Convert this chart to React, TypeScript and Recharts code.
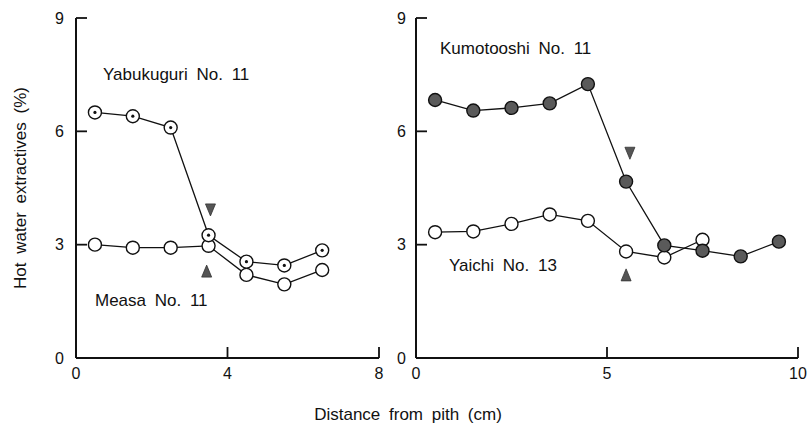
import React from "react"
import { ComposedChart, Line, Scatter, XAxis, YAxis } from "recharts"

// distance from pith (cm) for each ring position
const leftX = [0.5, 1.5, 2.5, 3.5, 4.5, 5.5, 6.5]
const rightX = [0.5, 1.5, 2.5, 3.5, 4.5, 5.5, 6.5, 7.5, 8.5, 9.5]

// hot water extractives (%)
const yabukuguri = [6.5, 6.4, 6.1, 3.25, 2.55, 2.45, 2.85]
const measa = [3.0, 2.92, 2.92, 2.97, 2.2, 1.95, 2.33]
const kumotooshi = [6.83, 6.55, 6.62, 6.74, 7.25, 4.67, 2.98, 2.84, 2.69, 3.08]
const yaichi = [3.33, 3.35, 3.55, 3.8, 3.63, 2.82, 2.66, 3.13]

// arrow markers (x, y)
const leftDownArrow = [{ x: 3.55, y: 3.92 }]
const leftUpArrow = [{ x: 3.45, y: 2.3 }]
const rightDownArrow = [{ x: 5.6, y: 5.42 }]
const rightUpArrow = [{ x: 5.5, y: 2.2 }]

const yTicks = [0, 3, 6, 9]
const leftXTicks = [0, 4, 8]
const rightXTicks = [0, 5, 10]

const toPoints = (xs: number[], ys: number[]) => ys.map((y, i) => ({ x: xs[i], y }))

const font = "'Liberation Sans', Arial, sans-serif"
const ink = "#111"
const TICK_LEN = 11

const OpenDot = (props: any) => {
  const { cx, cy, index } = props
  return <circle key={`o-${index}`} cx={cx} cy={cy} r={6.5} fill="#fff" stroke={ink} strokeWidth={1.4} />
}

const DottedDot = (props: any) => {
  const { cx, cy, index } = props
  return (
    <g key={`d-${index}`}>
      <circle cx={cx} cy={cy} r={6.5} fill="#fff" stroke={ink} strokeWidth={1.4} />
      <circle cx={cx} cy={cy} r={1.6} fill={ink} />
    </g>
  )
}

const FilledDot = (props: any) => {
  const { cx, cy, index } = props
  return <circle key={`f-${index}`} cx={cx} cy={cy} r={6.5} fill="#5a5a5a" stroke={ink} strokeWidth={1.4} />
}

const DownArrow = (props: any) => {
  const { cx, cy } = props
  return <polygon points={`${cx - 5},${cy - 6} ${cx + 5},${cy - 6} ${cx},${cy + 6}`} fill="#555" stroke="#333" strokeWidth={0.8} />
}

const UpArrow = (props: any) => {
  const { cx, cy } = props
  return <polygon points={`${cx - 5},${cy + 6} ${cx + 5},${cy + 6} ${cx},${cy - 6}`} fill="#555" stroke="#333" strokeWidth={0.8} />
}

// ticks point inward, labels sit outside
const makeYTick = (margin: number) => (props: any) => {
  const { x, y, payload } = props
  const ax = x + margin
  return (
    <g>
      <line x1={ax} x2={ax + TICK_LEN} y1={y} y2={y} stroke={ink} strokeWidth={1.8} />
      <text x={x} y={y} dy="0.36em" textAnchor="end" fontSize={16} fontFamily={font} fill={ink}>
        {payload.value}
      </text>
    </g>
  )
}

const makeXTick = (margin: number) => (props: any) => {
  const { x, y, payload } = props
  const ay = y - margin
  return (
    <g>
      <line x1={x} x2={x} y1={ay} y2={ay - TICK_LEN} stroke={ink} strokeWidth={1.8} />
      <text x={x} y={y} dy="0.75em" textAnchor="middle" fontSize={16} fontFamily={font} fill={ink}>
        {payload.value}
      </text>
    </g>
  )
}

const axisLine = { stroke: ink, strokeWidth: 2 }

const labelStyle: React.CSSProperties = {
  position: "absolute",
  fontFamily: font,
  fontSize: 17,
  color: ink,
  whiteSpace: "pre",
  lineHeight: "17px",
}

export default function App() {
  return (
    <div style={{ position: "absolute", left: 0, top: 0, width: 812, height: 424, background: "#fff", overflow: "hidden" }}>
      <div style={{ position: "absolute", left: 0, top: 0 }}>
        <ComposedChart width={400} height={424} margin={{ top: 18, right: 21, left: 0, bottom: 0 }}>
          <XAxis
            type="number"
            dataKey="x"
            domain={[0, 8]}
            ticks={leftXTicks}
            height={66}
            axisLine={axisLine}
            tickLine={false}
            tickSize={0}
            tickMargin={9}
            tick={makeXTick(9)}
          />
          <YAxis
            type="number"
            dataKey="y"
            domain={[0, 9]}
            ticks={yTicks}
            width={76}
            axisLine={axisLine}
            tickLine={false}
            tickSize={0}
            tickMargin={12}
            tick={makeYTick(12)}
          />
          <Line data={toPoints(leftX, measa)} dataKey="y" stroke={ink} strokeWidth={1.3} dot={OpenDot} isAnimationActive={false} />
          <Line data={toPoints(leftX, yabukuguri)} dataKey="y" stroke={ink} strokeWidth={1.3} dot={DottedDot} isAnimationActive={false} />
          <Scatter data={leftDownArrow} dataKey="y" shape={DownArrow} isAnimationActive={false} />
          <Scatter data={leftUpArrow} dataKey="y" shape={UpArrow} isAnimationActive={false} />
        </ComposedChart>
      </div>
      <div style={{ position: "absolute", left: 380, top: 0 }}>
        <ComposedChart width={432} height={424} margin={{ top: 18, right: 14, left: 0, bottom: 0 }}>
          <XAxis
            type="number"
            dataKey="x"
            domain={[0, 10]}
            ticks={rightXTicks}
            height={66}
            axisLine={axisLine}
            tickLine={false}
            tickSize={0}
            tickMargin={9}
            tick={makeXTick(9)}
          />
          <YAxis
            type="number"
            dataKey="y"
            domain={[0, 9]}
            ticks={yTicks}
            width={36}
            axisLine={axisLine}
            tickLine={false}
            tickSize={0}
            tickMargin={10}
            tick={makeYTick(10)}
          />
          <Line data={toPoints(rightX, yaichi)} dataKey="y" stroke={ink} strokeWidth={1.3} dot={OpenDot} isAnimationActive={false} />
          <Line data={toPoints(rightX, kumotooshi)} dataKey="y" stroke={ink} strokeWidth={1.3} dot={FilledDot} isAnimationActive={false} />
          <Scatter data={rightDownArrow} dataKey="y" shape={DownArrow} isAnimationActive={false} />
          <Scatter data={rightUpArrow} dataKey="y" shape={UpArrow} isAnimationActive={false} />
        </ComposedChart>
      </div>

      <div style={{ ...labelStyle, left: 103, top: 66, wordSpacing: 4 }}>Yabukuguri No. 11</div>
      <div style={{ ...labelStyle, left: 95, top: 292, wordSpacing: 4 }}>Measa No. 11</div>
      <div style={{ ...labelStyle, left: 440, top: 40, wordSpacing: 4 }}>Kumotooshi No. 11</div>
      <div style={{ ...labelStyle, left: 449, top: 257, wordSpacing: 4 }}>Yaichi No. 13</div>

      <div
        style={{
          ...labelStyle,
          left: 20,
          top: 188,
          transform: "translate(-50%, -50%) rotate(-90deg)",
          wordSpacing: 4,
        }}
      >
        Hot water extractives (%)
      </div>
      <div style={{ ...labelStyle, left: 408, top: 406, transform: "translateX(-50%)", wordSpacing: 4 }}>
        Distance from pith (cm)
      </div>
    </div>
  )
}
